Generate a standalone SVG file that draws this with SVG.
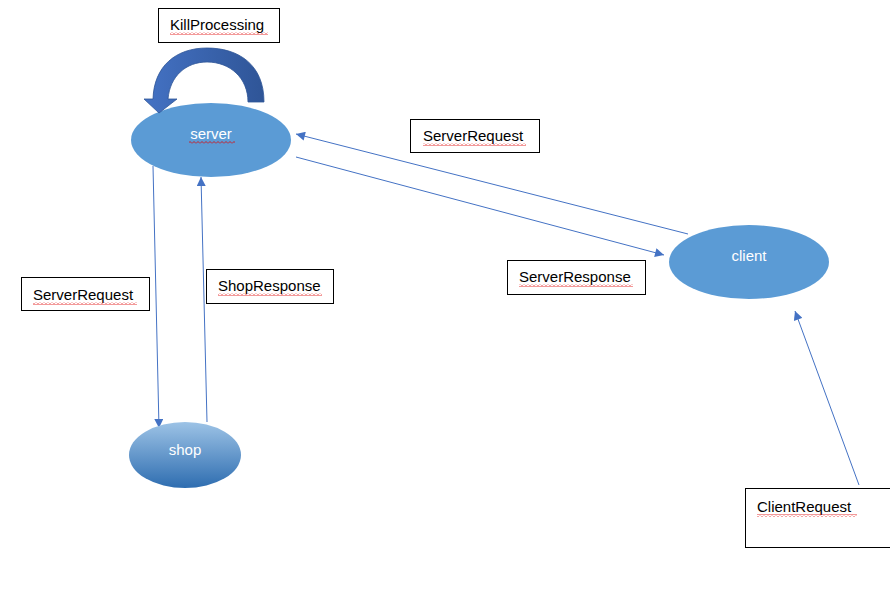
<svg xmlns="http://www.w3.org/2000/svg" width="890" height="615" viewBox="0 0 890 615">
<style>
.box{fill:#fff;stroke:#000;stroke-width:1}
.lbl{font-family:"Liberation Sans",Arial,sans-serif;font-size:15px;fill:#000}
.nl{font-family:"Liberation Sans",Arial,sans-serif;font-size:15px;fill:#fff;text-anchor:middle}
.con{stroke:#4472C4;stroke-width:1;fill:none;marker-end:url(#ah)}
.sq{fill:url(#wave)}
</style>
<defs>
<marker id="ah" viewBox="0 0 10 10" refX="10" refY="5" markerWidth="10" markerHeight="9" markerUnits="userSpaceOnUse" orient="auto">
<path d="M0,0 L10,5 L0,10 Z" fill="#4472C4"/>
</marker>
<pattern id="wave" width="4" height="3" patternUnits="userSpaceOnUse">
<path d="M0,2.5 L2,0.5 L4,2.5" fill="none" stroke="#E00000" stroke-width="0.8"/>
</pattern>
<linearGradient id="shopg" x1="0" y1="0" x2="0" y2="1">
<stop offset="0" stop-color="#9DC3E6"/>
<stop offset="1" stop-color="#2E6DB0"/>
</linearGradient>
<linearGradient id="arcg" x1="0" y1="0" x2="1" y2="0">
<stop offset="0" stop-color="#4472C4"/>
<stop offset="1" stop-color="#2F5597"/>
</linearGradient>
</defs>

<g id="connectors">
<line class="con" x1="688" y1="234" x2="296" y2="134"/>
<line class="con" x1="296" y1="157" x2="664" y2="255"/>
<line class="con" x1="153" y1="166" x2="159" y2="428"/>
<line class="con" x1="207" y1="422" x2="201" y2="177"/>
<line class="con" x1="859" y1="485" x2="795" y2="311"/>
</g>

<g id="server">
<ellipse cx="211" cy="140" rx="80" ry="37" fill="#5B9BD5"/>
<text class="nl" x="211" y="139">server</text>
<rect class="sq" x="189" y="141" width="46" height="3"/>
</g>

<g id="killprocessing-loop">
<path d="M264,102 C264,64 238,48 207,48 C176,48 154,66 153,99 L144,99 L159,113 L177,99 L168,99 C170,76 186,62 207,62 C230,62 248,78 248,102 Z" fill="url(#arcg)" stroke="#2F5597" stroke-width="0.8"/>
</g>

<g id="client">
<ellipse cx="749" cy="262" rx="80" ry="37" fill="#5B9BD5"/>
<text class="nl" x="749" y="261">client</text>
</g>

<g id="shop">
<ellipse cx="185" cy="455" rx="56" ry="33" fill="url(#shopg)"/>
<text class="nl" x="185" y="455">shop</text>
</g>

<g id="label-killprocessing">
<rect class="box" x="158.5" y="8.5" width="121" height="34"/>
<text class="lbl" x="170" y="30">KillProcessing</text>
<rect class="sq" x="170" y="32" width="98" height="3"/>
</g>

<g id="label-serverrequest-top">
<rect class="box" x="410.5" y="119.5" width="129" height="33"/>
<text class="lbl" x="423" y="141">ServerRequest</text>
<rect class="sq" x="423" y="143" width="103" height="3"/>
</g>

<g id="label-serverresponse">
<rect class="box" x="507.5" y="260.5" width="138" height="34"/>
<text class="lbl" x="519" y="282">ServerResponse</text>
<rect class="sq" x="519" y="284" width="114" height="3"/>
</g>

<g id="label-serverrequest-left">
<rect class="box" x="21.5" y="277.5" width="128" height="33"/>
<text class="lbl" x="33" y="300">ServerRequest</text>
<rect class="sq" x="33" y="302" width="104" height="3"/>
</g>

<g id="label-shopresponse">
<rect class="box" x="206.5" y="269.5" width="127" height="34"/>
<text class="lbl" x="218" y="291">ShopResponse</text>
<rect class="sq" x="218" y="293" width="104" height="3"/>
</g>

<g id="label-clientrequest">
<rect class="box" x="745.5" y="488.5" width="150" height="59"/>
<text class="lbl" x="757" y="512">ClientRequest</text>
<rect class="sq" x="757" y="514" width="100" height="3"/>
</g>
</svg>
